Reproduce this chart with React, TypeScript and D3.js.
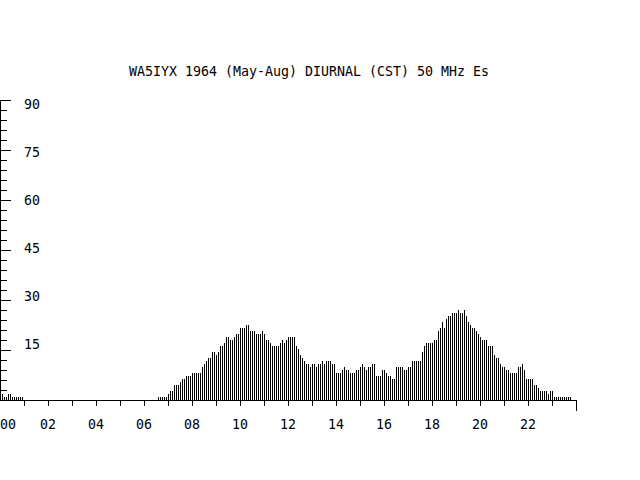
import React from 'react';
import * as d3 from 'd3';

const title = 'WA5IYX 1964 (May-Aug) DIURNAL (CST) 50 MHz Es';
const hourLabels = ['00', '02', '04', '06', '08', '10', '12', '14', '16', '18', '20', '22'];
const yTickLabels = [15, 30, 45, 60, 75, 90];
const binsPerHour = 12;

// 5-minute bins, 00:00 .. 23:55 CST
const values: number[] = [
  // 00
  0.9, 1.8, 0.9, 0.9, 1.8, 1.8, 0.9, 0.9, 0.9, 0.9, 0.9, 0.9,
  // 01
  0, 0, 0, 0, 0, 0, 0, 0, 0, 0, 0, 0,
  // 02
  0, 0, 0, 0, 0, 0, 0, 0, 0, 0, 0, 0,
  // 03
  0, 0, 0, 0, 0, 0, 0, 0, 0, 0, 0, 0,
  // 04
  0, 0, 0, 0, 0, 0, 0, 0, 0, 0, 0, 0,
  // 05
  0, 0, 0, 0, 0, 0, 0, 0, 0, 0, 0, 0,
  // 06
  0, 0, 0, 0, 0, 0, 0, 0.9, 0.9, 0.9, 0.9, 0.9,
  // 07
  1.8, 2.7, 2.7, 4.5, 4.5, 4.5, 5.4, 6.3, 6.3, 7.2, 7.2, 7.2,
  // 08
  8.1, 8.1, 8.1, 8.1, 8.1, 9.9, 10.8, 11.7, 12.6, 12.6, 14.4, 14.4,
  // 09
  13.5, 14.4, 16.2, 16.2, 17.1, 18.9, 18.9, 18, 18, 18.9, 19.8, 19.8,
  // 10
  21.6, 21.6, 21.6, 22.5, 22.5, 20.7, 20.7, 20.7, 19.8, 19.8, 19.8, 20.7,
  // 11
  19.8, 18, 18, 17.1, 16.2, 16.2, 16.2, 16.2, 17.1, 18, 17.1, 18,
  // 12
  18.9, 18.9, 18.9, 18.9, 16.2, 15.3, 13.5, 12.6, 11.7, 10.8, 10.8, 9.9,
  // 13
  10.8, 10.8, 9.9, 10.8, 10.8, 11.7, 10.8, 11.7, 11.7, 11.7, 10.8, 10.8,
  // 14
  8.1, 8.1, 8.1, 9, 9.9, 9, 9, 8.1, 8.1, 8.1, 9, 9,
  // 15
  9.9, 10.8, 9.9, 9, 9.9, 9.9, 10.8, 10.8, 7.2, 7.2, 7.2, 9,
  // 16
  9, 8.1, 7.2, 7.2, 6.3, 6.3, 9.9, 9.9, 9.9, 9.9, 9, 9,
  // 17
  9.9, 9.9, 11.7, 11.7, 11.7, 11.7, 11.7, 14.4, 16.2, 17.1, 17.1, 17.1,
  // 18
  17.1, 18, 18, 20.7, 21.6, 23.4, 21.6, 24.3, 25.2, 25.2, 26.1, 26.1,
  // 19
  26.1, 27, 26.1, 26.1, 27, 25.2, 23.4, 22.5, 21.6, 21.6, 20.7, 19.8,
  // 20
  18.9, 18, 18, 18, 16.2, 16.2, 16.2, 13.5, 12.6, 12.6, 10.8, 9.9,
  // 21
  9.9, 9, 9, 8.1, 8.1, 8.1, 8.1, 9.9, 9.9, 10.8, 9, 6.3,
  // 22
  6.3, 6.3, 6.3, 4.5, 4.5, 3.6, 2.7, 2.7, 2.7, 2.7, 1.8, 2.7,
  // 23
  2.7, 0.9, 0.9, 0.9, 0.9, 0.9, 0.9, 0.9, 0.9, 0.9, 0, 0,
];

const FONT = '"DejaVu Sans Mono", "Liberation Mono", monospace';

export default function App() {
  const W = 640;
  const H = 480;
  const x = d3.scaleLinear().domain([0, 24]).range([0, 576]);
  const y = d3.scaleLinear().domain([0, 90]).range([400, 100]);
  // label rows of the original are snapped to text rows
  const yLabel = d3.scaleLinear().domain([15, 90]).range([349, 109]);
  const base = y(0);

  const minorTicks = d3.range(3, 91, 3);
  const hourTicks = d3.range(1, 25);

  return (
    <svg
      width={W}
      height={H}
      style={{ position: 'absolute', left: 0, top: 0, background: '#fff' }}
      shapeRendering="crispEdges"
    >
      <rect x={0} y={0} width={W} height={H} fill="#fff" />
      <text x={309} y={76} fontFamily={FONT} fontSize={13.3} fontWeight={500} textAnchor="middle" fill="#000">
        {title}
      </text>

      {/* bars */}
      {values.map((v, i) => {
        const top = Math.round(y(v));
        const h = Math.round(base) - top;
        if (h <= 0) return null;
        return <rect key={i} x={Math.round(x(i / binsPerHour))} y={top} width={1} height={h} fill="#000" />;
      })}

      {/* y axis */}
      <rect x={0} y={y(90)} width={1} height={base - y(90)} fill="#000" />
      {minorTicks.map((t) => {
        const major = t % 15 === 0;
        return (
          <rect key={t} x={0} y={Math.round(y(t))} width={major ? 11 : 7} height={1} fill="#000" />
        );
      })}
      {yTickLabels.map((t) => (
        <text key={t} x={24} y={yLabel(t)} fontFamily={FONT} fontSize={13.3} fontWeight={500} fill="#000">
          {String(t)}
        </text>
      ))}

      {/* x axis */}
      <rect x={0} y={base} width={x(24) + 1} height={1} fill="#000" />
      {hourTicks.map((h) => (
        <rect key={h} x={Math.round(x(h))} y={base} width={1} height={h === 24 ? 11 : 6} fill="#000" />
      ))}
      {hourLabels.map((l, k) => (
        <text
          key={l}
          x={Math.max(x(k * 2), 8)}
          y={428.5}
          fontFamily={FONT}
          fontSize={13.3}
          fontWeight={500}
          textAnchor="middle"
          fill="#000"
        >
          {l}
        </text>
      ))}
    </svg>
  );
}
